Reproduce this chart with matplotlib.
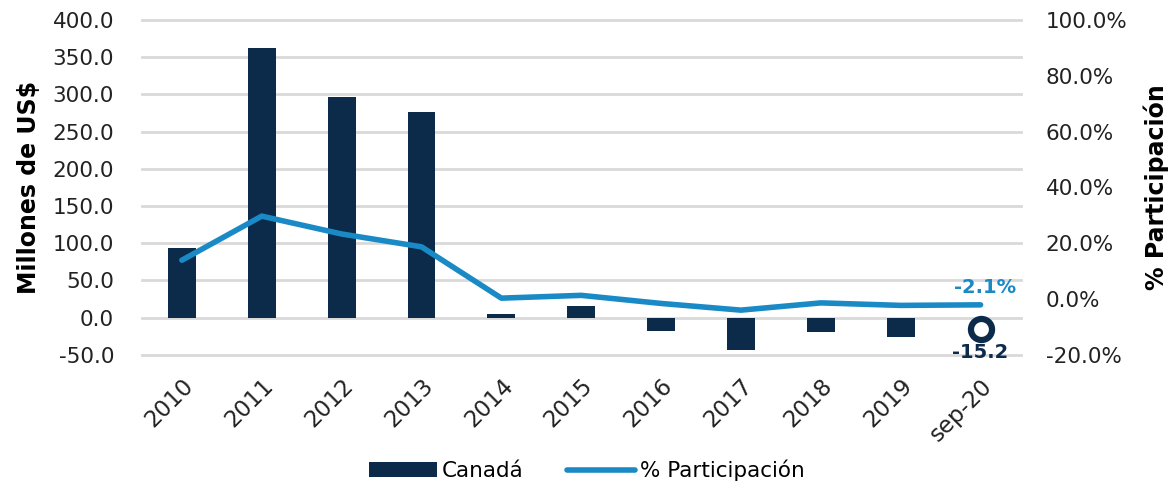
import numpy as np
import matplotlib.pyplot as plt
from matplotlib.ticker import FuncFormatter

plt.rcParams['font.family'] = ['DejaVu Sans']

# datos
anios = ['2010', '2011', '2012', '2013', '2014', '2015', '2016', '2017', '2018', '2019', 'sep-20']
canada = [94, 362, 296, 277, 4.4, 15.2, -17.8, -44, -18.8, -25.9, -15.2]
participacion = [13.9, 29.7, 23.3, 18.7, 0.3, 1.3, -1.6, -4.0, -1.4, -2.3, -2.1]

azul_osc = '#0c2a4a'
azul = '#1a8ac6'

fig = plt.figure(figsize=(11.73, 4.88), dpi=100)
ax = fig.add_axes([0.121, 0.273, 0.749, 0.686])
ax2 = ax.twinx()

x = np.arange(len(anios))

# barras (el ultimo dato va como marcador)
ax.bar(x[:-1], canada[:-1], width=0.35, color=azul_osc, zorder=2, label='Canadá')
ax.scatter(x[-1], canada[-1], s=230, facecolor='white', edgecolor=azul_osc, linewidth=4.5, zorder=3)
ax.text(x[-1], canada[-1] - 19, '{:.1f}'.format(canada[-1]), ha='center', va='top',
        fontsize=14, fontweight='bold', color=azul_osc)

ax2.plot(x, participacion, color=azul, linewidth=4, solid_capstyle='round', zorder=3, label='% Participación')
ax2.text(x[-1] + 0.05, participacion[-1] + 2.8, '{:.1f}%'.format(participacion[-1]), ha='center', va='bottom',
         fontsize=14, fontweight='bold', color=azul)

ax.set_ylim(-50, 400)
ax.set_yticks(np.arange(-50, 401, 50))
ax.yaxis.set_major_formatter(FuncFormatter(lambda v, p: '{:.1f}'.format(v)))
ax2.set_ylim(-20, 100)
ax2.set_yticks(np.arange(-20, 101, 20))
ax2.yaxis.set_major_formatter(FuncFormatter(lambda v, p: '{:.1f}%'.format(v)))

ax.set_xlim(-0.5, len(anios) - 0.5)
ax.set_xticks(x)
ax.set_xticklabels(anios, rotation=45, ha='right', rotation_mode='anchor', color='#222222')

ax.grid(axis='y', color='#d9d9d9', linewidth=2, zorder=0)
for g in ax.get_ygridlines():
    g.set_clip_on(False)
ax.set_axisbelow(True)
for a in (ax, ax2):
    for s in a.spines.values():
        s.set_visible(False)
    a.tick_params(length=0, labelsize=15.5, colors='#222222')
ax.tick_params(axis='x', labelsize=16.5, pad=14)
ax.tick_params(axis='y', pad=20)
ax2.tick_params(axis='y', pad=18)

ax.set_ylabel('Millones de US$', fontsize=17, fontweight='bold', color='black', labelpad=8)
ax2.set_ylabel('% Participación', fontsize=17, fontweight='bold', color='black', labelpad=12)

h1, l1 = ax.get_legend_handles_labels()
h2, l2 = ax2.get_legend_handles_labels()
fig.legend(h1 + h2, l1 + l2, loc='center', bbox_to_anchor=(0.5, 0.036), ncol=2, frameon=False,
           fontsize=15.5, handlelength=3.2, handletextpad=0.2, columnspacing=2.0)

plt.savefig('out.png', dpi=100)
